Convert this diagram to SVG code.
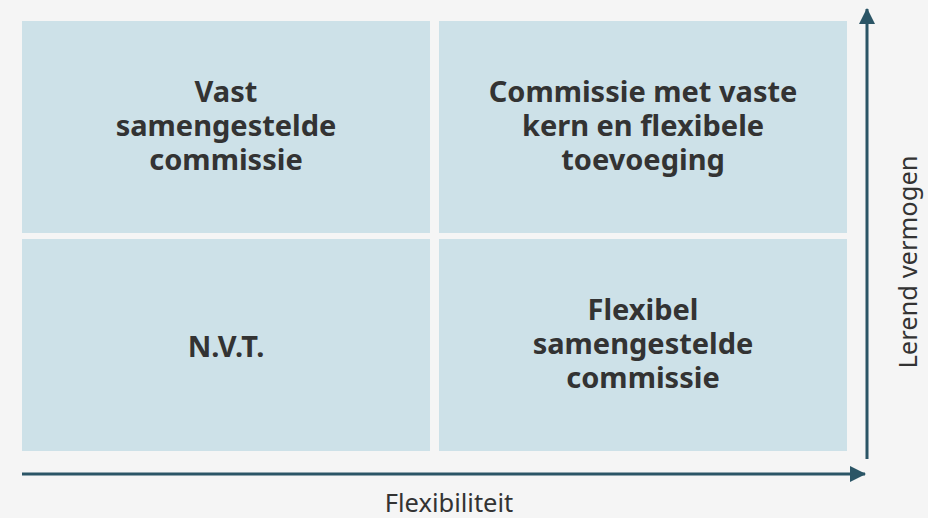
<svg xmlns="http://www.w3.org/2000/svg" width="928" height="518" viewBox="0 0 928 518">
<style>
.q{fill:#cde1e8}
.t{font-family:"Noto Sans","Open Sans","Liberation Sans",sans-serif;font-weight:700;font-size:29px;fill:#333333;text-anchor:middle}
.a{font-family:"Noto Sans","Open Sans","Liberation Sans",sans-serif;font-size:25.5px;fill:#333333;text-anchor:middle}
.ax{stroke:#2b5566;stroke-width:3;fill:none}
</style>
<defs>
<marker id="ah" viewBox="0 0 16 16" refX="15" refY="8" markerWidth="16" markerHeight="16" markerUnits="userSpaceOnUse" orient="auto">
<path d="M0,0 L16,8 L0,16 Z" fill="#2b5566"/>
</marker>
</defs>
<rect width="928" height="518" fill="#f5f5f5"/>
<g id="q-tl"><rect class="q" x="22" y="21" width="408" height="212"/>
<text class="t" x="226" y="102">Vast</text><text class="t" x="226" y="136">samengestelde</text><text class="t" x="226" y="170">commissie</text></g>
<g id="q-tr"><rect class="q" x="439" y="21" width="408" height="212"/>
<text class="t" x="643" y="102">Commissie met vaste</text><text class="t" x="643" y="136">kern en flexibele</text><text class="t" x="643" y="170">toevoeging</text></g>
<g id="q-bl"><rect class="q" x="22" y="239" width="408" height="212"/>
<text class="t" x="226" y="357">N.V.T.</text></g>
<g id="q-br"><rect class="q" x="439" y="239" width="408" height="212"/>
<text class="t" x="643" y="320">Flexibel</text><text class="t" x="643" y="354">samengestelde</text><text class="t" x="643" y="388">commissie</text></g>
<g id="axes">
<line class="ax" x1="867" y1="459" x2="867" y2="9" marker-end="url(#ah)"/>
<line class="ax" x1="22" y1="474" x2="865" y2="474" marker-end="url(#ah)"/>
</g>
<text class="a" x="449" y="512">Flexibiliteit</text>
<text class="a" transform="translate(917,262) rotate(-90)" x="0" y="0">Lerend vermogen</text>
</svg>
